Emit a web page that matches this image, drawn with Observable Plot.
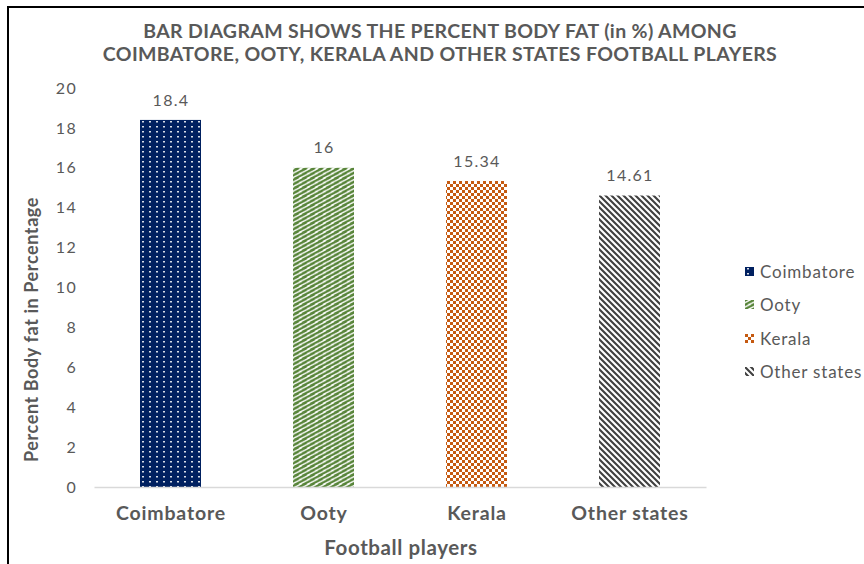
<!DOCTYPE html>
<html>
<head>
<meta charset="utf-8">
<script src="https://cdn.jsdelivr.net/npm/d3@7"></script>
<script src="https://cdn.jsdelivr.net/npm/@observablehq/plot@0.6"></script>
<style>
  html, body { margin: 0; padding: 0; background: #fff; }
  #wrap { position: relative; width: 864px; height: 564px; overflow: hidden; font-family: Lato, "Open Sans", sans-serif; }
  #border { position: absolute; left: 7px; top: 6px; width: 900px; height: 600px; border-left: 2px solid #000; border-top: 2px solid #000; box-sizing: border-box; }
  #title { position: absolute; left: 16px; top: 18.5px; width: 848px; text-align: center; font-weight: bold; font-size: 19.5px; letter-spacing: 0.35px; line-height: 23px; color: #595959; white-space: nowrap; }
  #chart { position: absolute; left: 0; top: 70px; }
  #legend { position: absolute; left: 745px; top: 255px; color: #595959; font-size: 17px; letter-spacing: 0.8px; }
  .item { height: 33.3px; display: flex; align-items: center; white-space: nowrap; }
  .item svg { margin-right: 6px; flex: none; }
</style>
</head>
<body>
<div id="wrap">
  <div id="border"></div>
  <div id="title">BAR DIAGRAM SHOWS THE PERCENT BODY FAT (in %) AMONG<br>COIMBATORE, OOTY, KERALA AND OTHER STATES FOOTBALL PLAYERS</div>
  <div id="chart"></div>
  <div id="legend"></div>
</div>
<script>
const categories = ["Coimbatore", "Ooty", "Kerala", "Other states"];
const values = [18.4, 16, 15.34, 14.61];
const valueLabels = ["18.4", "16", "15.34", "14.61"];
const patternIds = ["pat-coim", "pat-ooty", "pat-kerala", "pat-other"];
const yTicks = [0, 2, 4, 6, 8, 10, 12, 14, 16, 18, 20];

const data = categories.map((c, i) => ({
  category: c, value: values[i], label: valueLabels[i], fill: `url(#${patternIds[i]})`
}));

const gray = "#595959";

const plot = Plot.plot({
  width: 864,
  height: 494,
  marginLeft: 94.5,
  marginRight: 157.5,
  marginTop: 18,
  marginBottom: 77,
  style: { fontFamily: "Lato, 'Open Sans', sans-serif", color: gray, background: "transparent" },
  x: { domain: categories, paddingInner: 0.6, paddingOuter: 0.3, label: null },
  y: { domain: [0, 20], label: null },
  color: { type: "identity" },
  marks: [
    Plot.barY(data, { x: "category", y: "value", fill: "fill" }),
    Plot.ruleY([0], { stroke: "#d9d9d9", strokeWidth: 1.3 }),
    Plot.text(data, { x: "category", y: "value", text: "label", dy: -20, fill: gray, fontSize: 16 }),
    Plot.axisY({ ticks: yTicks, tickSize: 0, tickPadding: 18, fontSize: 16, fill: gray, label: null }),
    Plot.axisX({ tickSize: 0, tickPadding: 19, fontSize: 19.5, fontWeight: "bold", fill: gray, label: null }),
    Plot.text(["Percent Body fat in Percentage"], { frameAnchor: "left", textAnchor: "middle", rotate: -90, dx: -63, dy: 41.5, fontSize: 18, fontWeight: "bold", fill: gray }),
    Plot.text(["Football players"], { frameAnchor: "bottom", dy: 67, fontSize: 20.5, fontWeight: "bold", fill: gray })
  ]
});

// Pattern definitions
const svg = d3.select(plot);
const defs = svg.insert("defs", ":first-child");

// Coimbatore: navy with white dots
const p1 = defs.append("pattern").attr("id", "pat-coim").attr("patternUnits", "userSpaceOnUse").attr("width", 7).attr("height", 5);
p1.append("rect").attr("width", 7).attr("height", 5).attr("fill", "#002060");
p1.append("rect").attr("x", 2).attr("y", 1).attr("width", 2).attr("height", 1.5).attr("fill", "#ffffff").attr("opacity", 0.85);

// Ooty: green upward diagonal
const p2 = defs.append("pattern").attr("id", "pat-ooty").attr("patternUnits", "userSpaceOnUse").attr("width", 8).attr("height", 4.5);
p2.append("rect").attr("width", 8).attr("height", 4.5).attr("fill", "#ffffff");
p2.append("path").attr("d", "M0,4.5 L8,0.5 M-8,4.5 L8,-3.5 M0,8.5 L16,0.5").attr("stroke", "#548235").attr("stroke-width", 2.2).attr("fill", "none");

// Kerala: orange checkerboard
const p3 = defs.append("pattern").attr("id", "pat-kerala").attr("patternUnits", "userSpaceOnUse").attr("width", 6).attr("height", 6);
p3.append("rect").attr("width", 6).attr("height", 6).attr("fill", "#ffffff");
p3.append("rect").attr("x", 0).attr("y", 0).attr("width", 3).attr("height", 3).attr("fill", "#C55A11");
p3.append("rect").attr("x", 3).attr("y", 3).attr("width", 3).attr("height", 3).attr("fill", "#C55A11");

// Other states: dark gray downward diagonal
const p4 = defs.append("pattern").attr("id", "pat-other").attr("patternUnits", "userSpaceOnUse").attr("width", 6).attr("height", 6);
p4.append("rect").attr("width", 6).attr("height", 6).attr("fill", "#ffffff");
p4.append("path").attr("d", "M-6,0 L6,12 M0,0 L6,6 M0,-6 L12,6 M-3,-3 L3,3 M3,3 L9,9").attr("stroke", "#404040").attr("stroke-width", 2.1).attr("fill", "none");

// Slightly wider letter spacing on texts to match the reference's wide rendering
svg.selectAll("text").each(function() {
  const t = this.textContent;
  if (/^\d+(\.\d+)?$/.test(t)) d3.select(this).style("letter-spacing", "1.3px");
  else if (categories.includes(t)) d3.select(this).style("letter-spacing", "0.8px");
  else if (t === "Football players" || t === "Percent Body fat in Percentage") d3.select(this).style("letter-spacing", "0.6px");
});

document.getElementById("chart").appendChild(plot);

// Legend
const legend = d3.select("#legend");
categories.forEach((c, i) => {
  const item = legend.append("div").attr("class", "item");
  const s = item.append("svg").attr("width", 9).attr("height", 9);
  s.append("rect").attr("width", 9).attr("height", 9).attr("fill", `url(#${patternIds[i]})`);
  item.append("span").text(c);
});
</script>
</body>
</html>
